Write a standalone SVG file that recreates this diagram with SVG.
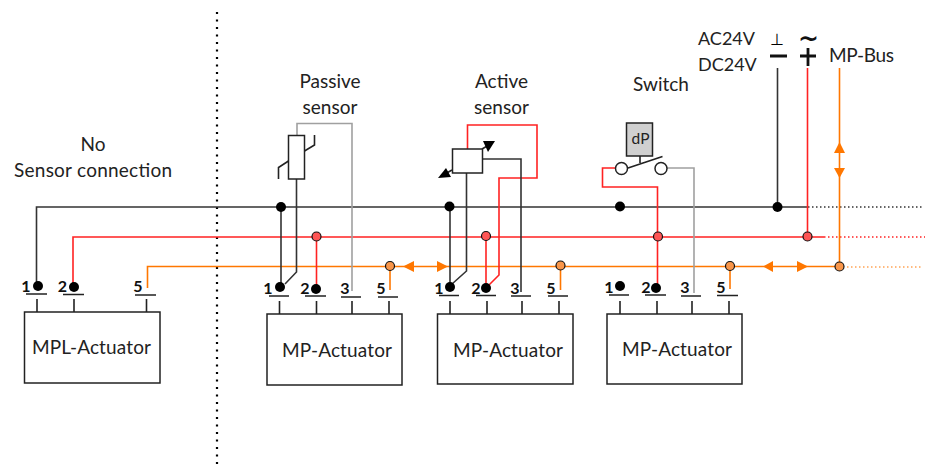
<svg xmlns="http://www.w3.org/2000/svg" width="932" height="473" viewBox="0 0 932 473">
<style>
text{font-family:"Lato","Liberation Sans",sans-serif;font-size:19px;fill:#222}
.n{font-size:16px;font-weight:700;fill:#111;text-anchor:middle}
.c{text-anchor:middle}
.k,.g,.r,.o,.t{fill:none;stroke-width:1.6}
.k{stroke:#333}.g{stroke:#a0a0a0}.r{stroke:#f22}.o{stroke:#f70}.t{stroke:#222}
.box{fill:#fff;stroke:#222;stroke-width:1.5}
.bd{fill:#000}
.pd{fill:#f55;stroke:#111;stroke-width:1.2}
.od{fill:#f9964a;stroke:#111;stroke-width:1.2}
.a{fill:#f70}
.d{stroke-dasharray:1.5 2.5}
</style>
<g id="connectors">
<path class="k d" d="M217 12V468" style="stroke:#000;stroke-width:2.2;stroke-dasharray:2 5.5"/>
<path class="k" d="M36.500 286V207H808"/>
<path class="k d" d="M808 207H923"/>
<path class="r" d="M73 287V237H824"/>
<path class="r d" d="M824 237H925"/>
<path class="o" d="M147.500 288V266.500H840"/>
<path class="o d" d="M847 267H921" style="stroke-width:1.2"/>
<path class="k" d="M777.500 68V207"/>
<path class="r" d="M807.500 68V236"/>
<path class="o" d="M839.500 68V266"/>
<path class="k" d="M281 207V287"/>
<path class="r" d="M316.500 237V289"/>
<path class="o" d="M390 266V290"/>
<path class="g" d="M297 135V123.500H352V291"/>
<path class="k" d="M296.500 179V272L285 284"/>
<path class="k" d="M450 207V287"/>
<path class="r" d="M486 236V288"/>
<path class="o" d="M560.500 266V290"/>
<path class="r" d="M467.500 149V125H537V178H499V275L487 287"/>
<path class="k" d="M482 159H521V292"/>
<path class="k" d="M466.500 173V271L452 284"/>
<path class="r" d="M615 168H602.500V187H657.500V287"/>
<path class="g" d="M667 168H694V293"/>
<path class="o" d="M730 266V289"/>
<polygon class="a" points="403,266.500 414,261 414,272"/>
<polygon class="a" points="448,266.500 437,261 437,272"/>
<polygon class="a" points="763,266.500 773,261 773,272"/>
<polygon class="a" points="808,266.500 797,261 797,272"/>
<polygon class="a" points="839.500,142 834,153 845,153"/>
<polygon class="a" points="839.500,178 834,168 845,168"/>
</g>
<g id="divider-junctions">
<circle class="bd" cx="281" cy="207" r="5"/><circle class="bd" cx="449.500" cy="206.500" r="5"/><circle class="bd" cx="620" cy="206.500" r="5"/><circle class="bd" cx="777.500" cy="207" r="5"/>
<circle class="pd" cx="316.500" cy="236.500" r="4.500"/><circle class="pd" cx="486" cy="236" r="4.500"/><circle class="pd" cx="658" cy="236.500" r="4.500"/><circle class="pd" cx="807.500" cy="236.500" r="4.500"/>
<circle class="od" cx="390" cy="266" r="4.500"/><circle class="od" cx="560.500" cy="265.500" r="4.500"/><circle class="od" cx="730" cy="266" r="4.500"/><circle class="od" cx="839.500" cy="266.500" r="4.500"/>
</g>
<g id="actuator-mpl">
<rect class="box" x="24.500" y="312" width="135.500" height="71"/>
<path class="t" d="M26 294H47M63 294.500H84M135 295H156M37 299V312M74 299V312M146.500 299V312"/>
<circle class="bd" cx="38" cy="286" r="5"/><circle class="bd" cx="74" cy="287" r="5"/>
<text class="n" x="26" y="292">1</text><text class="n" x="62.500" y="292">2</text><text class="n" x="138" y="292">5</text>
<text x="32" y="354" textLength="119">MPL-Actuator</text>
</g>
<g id="actuator-1">
<rect class="box" x="267" y="314" width="135" height="71"/>
<path class="t" d="M269 296H289M305 296H326M341 297H361M378 297H398M279.500 301V314M316.500 301V314M352 301V314M389 301V314"/>
<circle class="bd" cx="280" cy="287" r="5"/><circle class="bd" cx="316" cy="289" r="5"/>
<text class="n" x="268" y="294">1</text><text class="n" x="305" y="294">2</text><text class="n" x="345" y="294">3</text><text class="n" x="381" y="294">5</text>
<text x="282" y="357" textLength="110">MP-Actuator</text>
</g>
<g id="actuator-2">
<rect class="box" x="437.500" y="314" width="135.500" height="70"/>
<path class="t" d="M439 295.500H459M476 295.500H496M511 296H531M548 296H568M450 301V314M487 301V314M522 301V314M559 301V314"/>
<circle class="bd" cx="450" cy="287" r="5"/><circle class="bd" cx="486" cy="288" r="5"/>
<text class="n" x="439" y="294">1</text><text class="n" x="476" y="294">2</text><text class="n" x="515" y="294">3</text><text class="n" x="551" y="294">5</text>
<text x="453" y="357" textLength="110">MP-Actuator</text>
</g>
<g id="actuator-3">
<rect class="box" x="607" y="314" width="135" height="70"/>
<path class="t" d="M609 295H629M645 295H666M681 296H701M717 295.500H738M620 301V314M657 301V314M692 301V314M729 301V314"/>
<circle class="bd" cx="620" cy="286" r="5"/><circle class="bd" cx="656" cy="288" r="5"/>
<text class="n" x="609" y="293">1</text><text class="n" x="646" y="293">2</text><text class="n" x="685" y="293">3</text><text class="n" x="721" y="293">5</text>
<text x="622" y="356" textLength="110">MP-Actuator</text>
</g>
<g id="passive-sensor">
<rect class="box" x="288.500" y="135.500" width="16" height="43.500"/>
<path class="t" d="M278.500 179V167.500L288.500 161M304.500 151L314.500 145V135"/>
<text class="c" x="330" y="88">Passive</text><text class="c" x="330" y="113.500">sensor</text>
</g>
<g id="active-sensor">
<rect class="box" x="452.500" y="149" width="30" height="24"/>
<path class="t" d="M482 149L489 145M452 170L445 174"/>
<polygon fill="#000" points="483,141 495,141 488,152"/>
<polygon fill="#000" points="438,178 446,168 451,177"/>
<text class="c" x="501.500" y="88">Active</text><text class="c" x="501.500" y="113.500">sensor</text>
</g>
<g id="switch">
<rect class="box" x="626.500" y="123" width="26" height="33" style="fill:#d0d0d0"/>
<text class="c" x="640.500" y="144" style="font-size:15.500px">dP</text>
<path class="t" d="M640 156V163M628 168L662.500 156.500"/>
<circle class="box" cx="621.500" cy="168.500" r="6"/><circle class="box" cx="661" cy="168.500" r="6"/>
<text class="c" x="661" y="91">Switch</text>
</g>
<g id="supply">
<text x="698" y="45" style="font-size:18px">AC24V</text><text x="698" y="71" style="font-size:18px">DC24V</text>
<text class="c" x="777" y="45" style="font-family:'DejaVu Sans',sans-serif;font-size:16px;fill:#000;text-rendering:geometricPrecision">⊥</text>
<text class="c" x="808.500" y="46.500" style="font-family:'DejaVu Sans',sans-serif;font-size:25px;font-weight:700;fill:#111">~</text>
<path d="M770 56H787M800 56H816M808 48V66" stroke="#111" stroke-width="2.800" fill="none"/>
<text x="829" y="62" textLength="65">MP-Bus</text>
</g>
<g id="no-sensor">
<text class="c" x="93" y="151">No</text><text x="14" y="177" textLength="158">Sensor connection</text>
</g>
</svg>
